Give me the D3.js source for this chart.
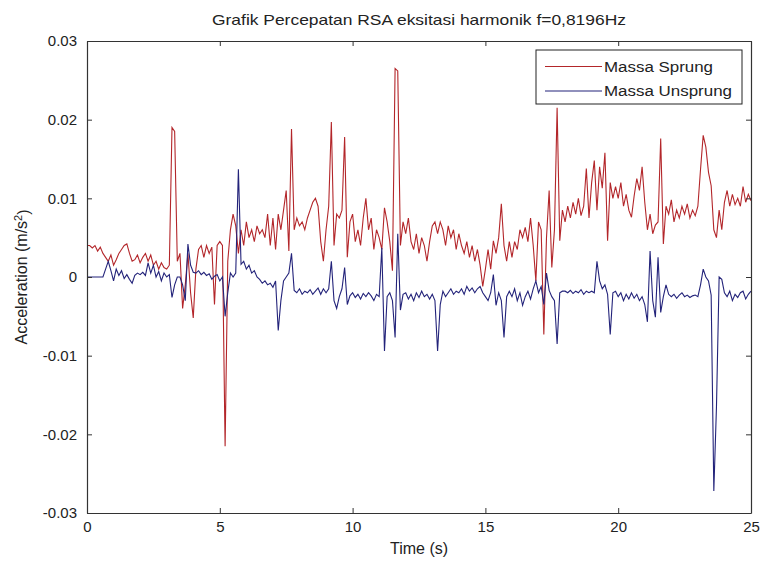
<!DOCTYPE html>
<html>
<head>
<meta charset="utf-8">
<script src="https://cdn.jsdelivr.net/npm/d3@7"></script>
<style>
  html, body { margin: 0; padding: 0; background: #ffffff; }
  svg { display: block; font-family: "Liberation Sans", Arial, sans-serif; }
</style>
</head>
<body>
<svg id="chart" width="762" height="566"></svg>
<script>
// ---- data ----
const title = "Grafik Percepatan RSA eksitasi harmonik f=0,8196Hz";
const xLabel = "Time (s)";
const yLabel = "Acceleration (m/s";
const seriesNames = ["Massa Sprung", "Massa Unsprung"];
const xTicks = [0, 5, 10, 15, 20, 25];
const yTicks = [-0.03, -0.02, -0.01, 0, 0.01, 0.02, 0.03];
const yTickLabels = ["-0.03", "-0.02", "-0.01", "0", "0.01", "0.02", "0.03"];
const sampleStep = 0.1; // seconds between samples

const sprung = [
  0.0040, 0.0040, 0.0037, 0.0040, 0.0033, 0.0038, 0.0030, 0.0025, 0.0020, 0.0028,
  0.0015, 0.0022, 0.0030, 0.0035, 0.0040, 0.0042, 0.0030, 0.0020, 0.0022, 0.0028,
  0.0018, 0.0025, 0.0030, 0.0020, 0.0028, 0.0015, 0.0020, 0.0010, 0.0018, 0.0012,
  0.0010, 0.0015, 0.0190, 0.0185, 0.0020, 0.0030, -0.0040, -0.0010, 0.0030, -0.0020,
  -0.0052, 0.0010, 0.0035, 0.0040, 0.0025, 0.0040, 0.0030, 0.0038, -0.0035, 0.0040,
  0.0045, 0.0040, -0.0215, 0.0020, 0.0060, 0.0080, 0.0065, 0.0030, 0.0060, 0.0040,
  0.0070, 0.0050, 0.0060, 0.0045, 0.0065, 0.0055, 0.0060, 0.0050, 0.0080, 0.0040,
  0.0075, 0.0035, 0.0080, 0.0060, 0.0085, 0.0110, 0.0033, 0.0188, 0.0060, 0.0075,
  0.0065, 0.0070, 0.0060, 0.0075, 0.0085, 0.0095, 0.0100, 0.0090, 0.0045, 0.0020,
  0.0060, 0.0090, 0.0197, 0.0040, 0.0080, 0.0075, 0.0085, 0.0178, 0.0025, 0.0070,
  0.0080, 0.0045, 0.0060, 0.0040, 0.0075, 0.0100, 0.0060, 0.0075, 0.0035, 0.0060,
  0.0050, 0.0035, 0.0088, 0.0070, 0.0045, 0.0008, 0.0265, 0.0262, 0.0040, 0.0070,
  0.0055, 0.0075, 0.0045, 0.0035, 0.0055, 0.0030, 0.0050, 0.0040, 0.0020, 0.0045,
  0.0065, 0.0070, 0.0055, 0.0070, 0.0060, 0.0040, 0.0065, 0.0050, 0.0060, 0.0035,
  0.0055, 0.0040, 0.0030, 0.0045, 0.0025, 0.0040, 0.0020, 0.0035, 0.0015, -0.0012,
  0.0010, 0.0035, 0.0010, 0.0046, 0.0030, 0.0050, 0.0093, 0.0040, 0.0020, 0.0045,
  0.0025, 0.0045, 0.0035, 0.0060, 0.0050, 0.0063, 0.0045, 0.0075, 0.0040, -0.0005,
  0.0070, 0.0060, -0.0073, 0.0050, 0.0110, 0.0012, 0.0060, 0.0215, 0.0046, 0.0085,
  0.0070, 0.0090, 0.0075, 0.0095, 0.0080, 0.0100, 0.0078, 0.0090, 0.0138, 0.0075,
  0.0120, 0.0148, 0.0085, 0.0140, 0.0113, 0.0158, 0.0046, 0.0120, 0.0100, 0.0115,
  0.0100, 0.0120, 0.0090, 0.0105, 0.0085, 0.0076, 0.0103, 0.0125, 0.0110, 0.0140,
  0.0095, 0.0060, 0.0080, 0.0055, 0.0066, 0.0070, 0.0176, 0.0042, 0.0090, 0.0080,
  0.0098, 0.0070, 0.0085, 0.0075, 0.0090, 0.0080, 0.0093, 0.0075, 0.0085, 0.0078,
  0.0090, 0.0137, 0.0180, 0.0165, 0.0133, 0.0116, 0.0060, 0.0050, 0.0085, 0.0060,
  0.0095, 0.0110, 0.0090, 0.0105, 0.0092, 0.0100, 0.0090, 0.0115, 0.0095, 0.0105,
  0.0097
];

const unsprung = [
  0.0000, 0.0000, 0.0000, 0.0000, 0.0000, 0.0000, 0.0000, 0.0010, 0.0020, 0.0008,
  -0.0005, 0.0010, 0.0002, 0.0008, -0.0002, 0.0003, -0.0003, -0.0008, 0.0002, 0.0005,
  0.0003, 0.0006, 0.0002, 0.0018, 0.0005, 0.0015, 0.0000, 0.0007, -0.0005, 0.0005,
  0.0000, 0.0003, -0.0026, -0.0010, 0.0000, 0.0000, -0.0010, -0.0030, 0.0042, 0.0015,
  0.0006, 0.0005, 0.0008, 0.0003, 0.0006, 0.0002, 0.0004, -0.0003, 0.0001, 0.0003,
  -0.0005, 0.0000, -0.0050, -0.0020, 0.0005, 0.0000, 0.0005, 0.0137, 0.0016, 0.0020,
  0.0010, 0.0015, 0.0005, 0.0008, 0.0000, -0.0003, -0.0008, -0.0005, -0.0010, -0.0008,
  -0.0013, -0.0005, -0.0068, -0.0030, -0.0005, 0.0000, 0.0005, 0.0030, -0.0017, -0.0020,
  -0.0015, -0.0022, -0.0018, -0.0020, -0.0016, -0.0022, -0.0018, -0.0014, -0.0022, -0.0015,
  -0.0020, -0.0015, 0.0020, -0.0030, -0.0040, -0.0025, -0.0015, 0.0012, -0.0035, -0.0024,
  -0.0020, -0.0026, -0.0022, -0.0028, -0.0021, -0.0025, -0.0020, -0.0024, -0.0030, -0.0022,
  -0.0025, 0.0037, -0.0094, -0.0025, -0.0020, -0.0030, -0.0077, 0.0055, -0.0042, -0.0022,
  -0.0020, -0.0028, -0.0022, -0.0030, -0.0020, -0.0026, -0.0018, -0.0025, -0.0022, -0.0028,
  -0.0022, -0.0030, -0.0094, -0.0035, -0.0018, -0.0025, -0.0020, -0.0015, -0.0022, -0.0018,
  -0.0020, -0.0015, -0.0022, -0.0012, -0.0018, -0.0014, -0.0020, -0.0015, -0.0012, -0.0020,
  -0.0025, -0.0030, -0.0020, 0.0003, -0.0036, -0.0020, -0.0030, -0.0077, -0.0025, -0.0018,
  -0.0025, -0.0015, -0.0030, -0.0020, -0.0036, -0.0025, -0.0018, -0.0028, -0.0015, -0.0005,
  -0.0020, -0.0012, -0.0035, 0.0005, -0.0017, -0.0025, -0.0030, -0.0085, -0.0020, -0.0018,
  -0.0018, -0.0020, -0.0017, -0.0021, -0.0018, -0.0020, -0.0016, -0.0022, -0.0018, -0.0020,
  -0.0018, -0.0020, 0.0020, -0.0005, -0.0015, -0.0010, -0.0022, -0.0073, -0.0020, -0.0018,
  -0.0025, -0.0020, -0.0030, -0.0022, -0.0028, -0.0020, -0.0027, -0.0022, -0.0030, -0.0025,
  -0.0035, -0.0057, 0.0033, -0.0030, -0.0051, 0.0025, -0.0045, -0.0025, -0.0010, -0.0022,
  -0.0025, -0.0022, -0.0027, -0.0023, -0.0020, -0.0025, -0.0023, -0.0026, -0.0024, -0.0023,
  -0.0025, -0.0010, 0.0010, 0.0000, -0.0005, -0.0023, -0.0272, -0.0165, 0.0000, -0.0003,
  -0.0020, -0.0025, -0.0018, -0.0030, -0.0022, -0.0026, -0.0020, -0.0018, -0.0028, -0.0022,
  -0.0018
];

const colors = ["#b3262a", "#23237a"];

// ---- layout ----
const svg = d3.select("#chart");
const mLeft = 87, mRight = 751, mTop = 41, mBottom = 513;

const x = d3.scaleLinear().domain([0, 25]).range([mLeft, mRight]);
const y = d3.scaleLinear().domain([-0.03, 0.03]).range([mBottom, mTop]);

svg.append("clipPath").attr("id", "clip").append("rect")
  .attr("x", mLeft).attr("y", mTop).attr("width", mRight - mLeft).attr("height", mBottom - mTop);

// lines
const line = d3.line()
  .x((d, i) => x(i * sampleStep))
  .y(d => y(d));

[sprung, unsprung].forEach((s, k) => {
  svg.append("path")
    .datum(s)
    .attr("clip-path", "url(#clip)")
    .attr("fill", "none")
    .attr("stroke", colors[k])
    .attr("stroke-width", 1.1)
    .attr("d", line);
});

// axes (MATLAB-style box with inward ticks on all sides)
const axisColor = "#333";
const fontSize = 15;

const gB = svg.append("g").attr("transform", `translate(0,${mBottom})`)
  .call(d3.axisBottom(x).tickValues(xTicks).tickSizeInner(-5).tickSizeOuter(0).tickPadding(8));
const gT = svg.append("g").attr("transform", `translate(0,${mTop})`)
  .call(d3.axisTop(x).tickValues(xTicks).tickSizeInner(-5).tickSizeOuter(0).tickFormat(""));
const gL = svg.append("g").attr("transform", `translate(${mLeft},0)`)
  .call(d3.axisLeft(y).tickValues(yTicks).tickSizeInner(-5).tickSizeOuter(0).tickPadding(10)
    .tickFormat((d, i) => yTickLabels[i]));
const gR = svg.append("g").attr("transform", `translate(${mRight},0)`)
  .call(d3.axisRight(y).tickValues(yTicks).tickSizeInner(-5).tickSizeOuter(0).tickFormat(""));

[gB, gT, gL, gR].forEach(g => {
  g.selectAll("path.domain").attr("stroke", axisColor).attr("stroke-width", 1.2);
  g.selectAll(".tick line").attr("stroke", axisColor);
  g.selectAll("text").attr("fill", "#222").style("font-size", fontSize + "px")
    .style("font-family", "'Liberation Sans', Arial, sans-serif");
});

// title
svg.append("text")
  .attr("x", (mLeft + mRight) / 2).attr("y", 25)
  .attr("text-anchor", "middle")
  .attr("fill", "#222")
  .style("font-size", "15px")
  .attr("textLength", 414).attr("lengthAdjust", "spacingAndGlyphs")
  .text(title);

// x label
svg.append("text")
  .attr("x", (mLeft + mRight) / 2).attr("y", 554)
  .attr("text-anchor", "middle")
  .attr("fill", "#222")
  .style("font-size", "16px")
  .text(xLabel);

// y label with superscript
const yl = svg.append("text")
  .attr("transform", `translate(27,${(mTop + mBottom) / 2}) rotate(-90)`)
  .attr("text-anchor", "middle")
  .attr("fill", "#222")
  .style("font-size", "16px");
yl.append("tspan").text(yLabel);
yl.append("tspan").attr("dy", "-0.45em").style("font-size", "11px").text("2");
yl.append("tspan").attr("dy", "0.45em").text(")");

// legend
const legendWidths = [109, 128];
const lg = svg.append("g");
lg.append("rect").attr("x", 536).attr("y", 50).attr("width", 206).attr("height", 54)
  .attr("fill", "#fff").attr("stroke", "#222").attr("stroke-width", 1);
seriesNames.forEach((name, i) => {
  const yy = 66.5 + i * 24.5;
  lg.append("line").attr("x1", 545).attr("x2", 602).attr("y1", yy).attr("y2", yy)
    .attr("stroke", colors[i]).attr("stroke-width", 1.1);
  lg.append("text").attr("x", 604).attr("y", yy).attr("dy", "0.35em")
    .attr("fill", "#222").style("font-size", "15.5px")
    .attr("textLength", legendWidths[i]).attr("lengthAdjust", "spacingAndGlyphs")
    .text(name);
});
</script>
</body>
</html>
